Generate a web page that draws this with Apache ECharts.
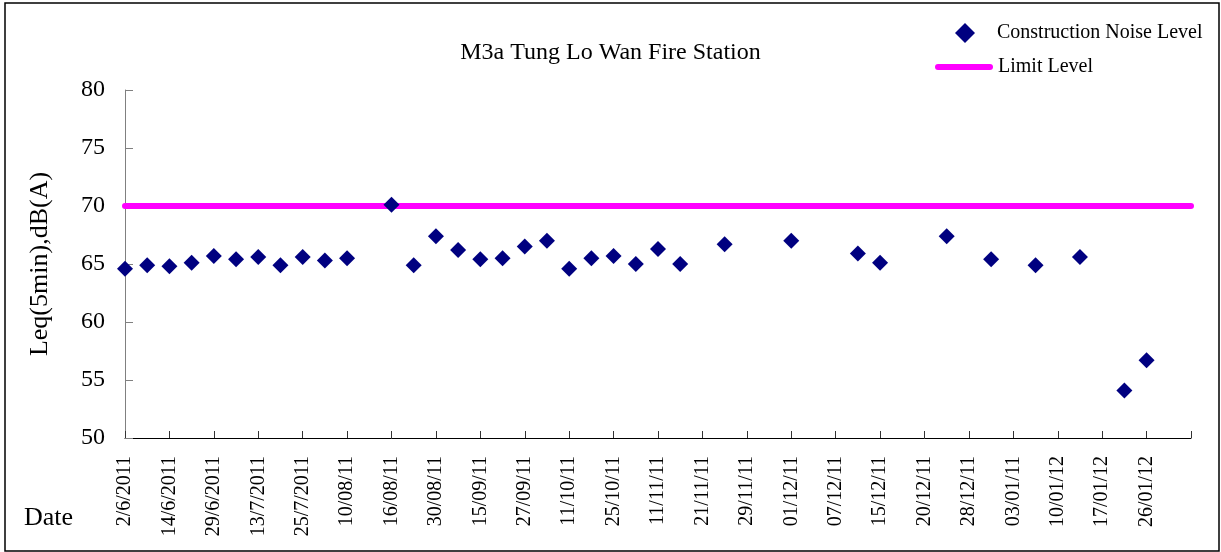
<!DOCTYPE html>
<html>
<head>
<meta charset="utf-8">
<script src="https://cdn.jsdelivr.net/npm/echarts@6/dist/echarts.min.js"></script>
<style>
html,body{margin:0;padding:0;background:#fff;}
#chart{width:1221px;height:552px;}
</style>
</head>
<body>
<div id="chart"></div>
<script>
// Tick labels shown on the category axis (every second category)
var tickLabels = ['2/6/2011','14/6/2011','29/6/2011','13/7/2011','25/7/2011','10/08/11','16/08/11','30/08/11','15/09/11','27/09/11','11/10/11','25/10/11','11/11/11','21/11/11','29/11/11','01/12/11','07/12/11','15/12/11','20/12/11','28/12/11','03/01/11','10/01/12','17/01/12','26/01/12',''];
// Measured construction noise level per category slot (null = no measurement)
var noiseLevels = [
  64.6, 64.9, 64.8, 65.1, 65.7, 65.4, 65.6, 64.9, 65.6, 65.3,
  65.5, null, 70.1, 64.9, 67.4, 66.2, 65.4, 65.5, 66.5, 67.0,
  64.6, 65.5, 65.7, 65.0, 66.3, 65.0, null, 66.7, null, null,
  67.0, null, null, 65.9, 65.1, null, null, 67.4, null, 65.4,
  null, 64.9, null, 65.6, null, 54.1, 56.7, null, null
];
var limitLevel = 70;
var seriesNames = ['Construction Noise Level', 'Limit Level'];
var chartTitle = 'M3a Tung Lo Wan Fire Station';
var yAxisTitle = 'Leq(5min),dB(A)';
var xAxisTitle = 'Date';

var categories = [];
for (var i = 0; i < noiseLevels.length; i++) {
  categories.push(i % 2 === 0 ? tickLabels[i / 2] : '');
}
var limitData = categories.map(function () { return limitLevel; });

var FONT = 'Liberation Serif';
var NAVY = '#000080', MAGENTA = '#FF00FF';
var capsule = 'path://M3,0 H55 A3,3 0 0 1 55,6 H3 A3,3 0 0 1 3,0 Z';
var chart = echarts.init(document.getElementById('chart'), null, {renderer: 'canvas'});
chart.setOption({
  backgroundColor: '#fff',
  animation: false,
  title: [
    {text: chartTitle, left: 'center', top: 36,
     textStyle: {fontFamily: FONT, fontSize: 24, fontWeight: 'normal', color: '#000'}},
    {text: xAxisTitle, left: 19, top: 500,
     textStyle: {fontFamily: FONT, fontSize: 26, fontWeight: 'normal', color: '#000'}}
  ],
  graphic: [{
    type: 'rect', shape: {x: 5, y: 3, width: 1214, height: 548},
    style: {fill: 'none', stroke: '#000', lineWidth: 1.5}, silent: true
  }],
  legend: [
    {
      left: 950, top: 18, itemWidth: 20, itemHeight: 20,
      data: [{name: seriesNames[0], icon: 'diamond'}],
      textStyle: {fontFamily: FONT, fontSize: 20, color: '#000', padding: [0, 0, 0, 17]}
    },
    {
      left: 930, top: 52, itemWidth: 58, itemHeight: 6,
      data: [{name: seriesNames[1], icon: capsule, itemStyle: {color: MAGENTA}}],
      textStyle: {fontFamily: FONT, fontSize: 20, color: '#000'}
    }
  ],
  grid: {left: 125, right: 30, top: 90, bottom: 114, containLabel: false},
  xAxis: {
    type: 'category', data: categories, boundaryGap: false,
    axisLine: {lineStyle: {color: '#000', width: 1}},
    axisTick: {show: true, inside: true, length: 7, interval: 1, lineStyle: {color: '#333'}},
    axisLabel: {interval: 1, rotate: 90, margin: 18, fontFamily: FONT, fontSize: 20, color: '#000'},
    splitLine: {show: false}
  },
  yAxis: {
    type: 'value', min: 50, max: 80, interval: 5,
    name: yAxisTitle, nameLocation: 'middle', nameGap: 72, nameRotate: 90,
    nameTextStyle: {fontFamily: FONT, fontSize: 26, color: '#000'},
    axisLine: {show: true, lineStyle: {color: '#808080', width: 1}},
    axisTick: {show: true, inside: true, length: 8, lineStyle: {color: '#808080'}},
    axisLabel: {margin: 20, fontFamily: FONT, fontSize: 24, color: '#000'},
    splitLine: {show: false}
  },
  series: [
    {name: seriesNames[0], type: 'scatter', data: noiseLevels, symbol: 'diamond', symbolSize: 16,
     itemStyle: {color: NAVY, opacity: 1}, z: 3},
    {name: seriesNames[1], type: 'line', data: limitData, symbol: 'none', showSymbol: false,
     lineStyle: {color: MAGENTA, width: 6, cap: 'round'}, itemStyle: {color: MAGENTA}, z: 2}
  ]
});
</script>
</body>
</html>
